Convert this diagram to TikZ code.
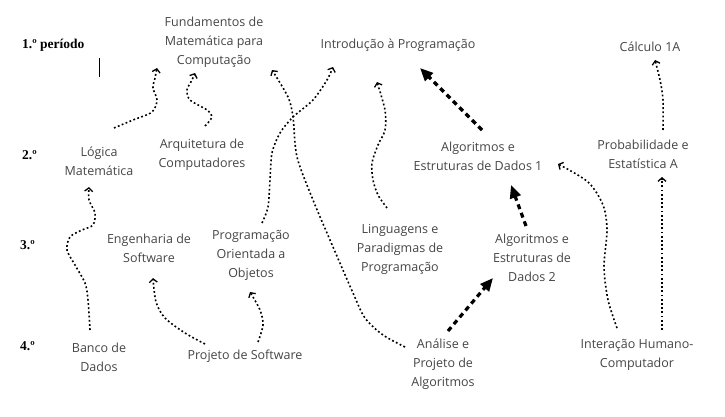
\documentclass[tikz,border=0pt]{standalone}
\usepackage{fontspec}
\setmainfont{Open Sans}
\newfontfamily\perfont{Liberation Serif}
\usetikzlibrary{arrows.meta}
\definecolor{textgray}{HTML}{454545}

\begin{document}
\begin{tikzpicture}[x=1pt,y=-1pt,
    disc/.style={align=center,inner sep=0pt,text=textgray,font=\fontsize{12.5}{19}\selectfont},
    per/.style={anchor=west,inner sep=0pt,font=\perfont\bfseries\fontsize{13.5}{16}\selectfont},
    req/.style={line width=1.6pt,dash pattern=on 1.8pt off 2.4pt,-{Straight Barb[length=3.5pt,width=8pt,line width=1.3pt]}},
    strong/.style={line width=3.2pt,dash pattern=on 5pt off 4pt,-{Triangle[length=13pt,width=11pt]}}]
    \useasboundingbox (0,0) rectangle (725,417);
    \node[per] (per1) at (22,45) {1.º período};
    \node[per] (per2) at (22,155) {2.º};
    \node[per] (per3) at (20,245) {3.º};
    \node[per] (per4) at (20,346) {4.º};
    \draw[line width=0.8pt] (99,58) -- (99,77);
    \node[disc] (fund) at (214,42) {Fundamentos de\\Matemática para\\Computação};
    \node[disc] (intro) at (398,45) {Introdução à Programação};
    \node[disc] (calc) at (650,47) {Cálculo 1A};
    \node[disc] (logica) at (99,161) {Lógica\\Matemática};
    \node[disc] (arq) at (202,155) {Arquitetura de\\Computadores};
    \node[disc] (aed1) at (478,156) {Algoritmos e\\Estruturas de Dados 1};
    \node[disc] (prob) at (643,154) {Probabilidade e\\Estatística A};
    \node[disc] (engsw) at (149,248) {Engenharia de\\Software};
    \node[disc] (poo) at (251,255) {Programação\\Orientada a\\Objetos};
    \node[disc] (ling) at (400,249) {Linguagens e\\Paradigmas de\\Programação};
    \node[disc] (aed2) at (532,258) {Algoritmos e\\Estruturas de\\Dados 2};
    \node[disc] (banco) at (99,357) {Banco de\\Dados};
    \node[disc] (projsw) at (245,356) {Projeto de Software};
    \node[disc] (apa) at (443,364) {Análise e\\Projeto de\\Algoritmos};
    \node[disc] (ihc) at (637,355) {Interação Humano-\\Computador};
    \draw[req] plot[smooth] coordinates {([shift={(15,-33)}]logica.center) (133,120) (152,112) (157,100) (153,88) (155,78) ([shift={(-57,26)}]fund.center)};
    \draw[req] plot[smooth] coordinates {([shift={(3,-29)}]arq.center) (212,117) (207,110) (190,100) (187,90) (192,80) ([shift={(-19,31)}]fund.center)};
    \draw[req] plot[smooth] coordinates {([shift={(11,-32)}]poo.center) (268,207) (270,180) (272,153) (280,133) (293,117) (313,100) (327,80) ([shift={(-65,22)}]intro.center)};
    \draw[req] plot[smooth] coordinates {([shift={(-38,-17)}]apa.center) (383,335) (365,318) (353,293) (330,240) (313,200) (297,157) (293,117) (288,97) ([shift={(58,28)}]fund.center)};
    \draw[req] plot[smooth] coordinates {([shift={(-13,-41)}]ling.center) (378,195) (373,180) (372,163) (378,145) (385,130) (385,110) ([shift={(-21,37)}]intro.center)};
    \draw[strong] ([shift={(4,-26)}]aed1.center) -- ([shift={(22,23)}]intro.center);
    \draw[strong] ([shift={(-6,-32)}]aed2.center) -- ([shift={(33,29)}]aed1.center);
    \draw[strong] ([shift={(5,-33)}]apa.center) -- ([shift={(-39,20)}]aed2.center);
    \draw[req] plot[smooth] coordinates {([shift={(-20,-27)}]ihc.center) (608,300) (604,267) (607,230) (603,205) (588,182) ([shift={(80,8)}]aed1.center)};
    \draw[req] ([shift={(25,-25)}]ihc.center) -- ([shift={(19,23)}]prob.center);
    \draw[req] plot[smooth] coordinates {([shift={(20,-24)}]prob.center) (663,100) (660,80) ([shift={(5,13)}]calc.center)};
    \draw[req] plot[smooth] coordinates {([shift={(-9,-27)}]banco.center) (88,300) (85,283) (75,265) (67,250) (70,237) (82,230) (93,225) (95,213) (89,200) ([shift={(-10,26)}]logica.center)};
    \draw[req] plot[smooth] coordinates {([shift={(-40,-12)}]projsw.center) (185,333) (165,318) (156,302) ([shift={(4,30)}]engsw.center)};
    \draw[req] plot[smooth] coordinates {([shift={(13,-14)}]projsw.center) (263,325) (260,310) ([shift={(-1,37)}]poo.center)};
\end{tikzpicture}
\end{document}
